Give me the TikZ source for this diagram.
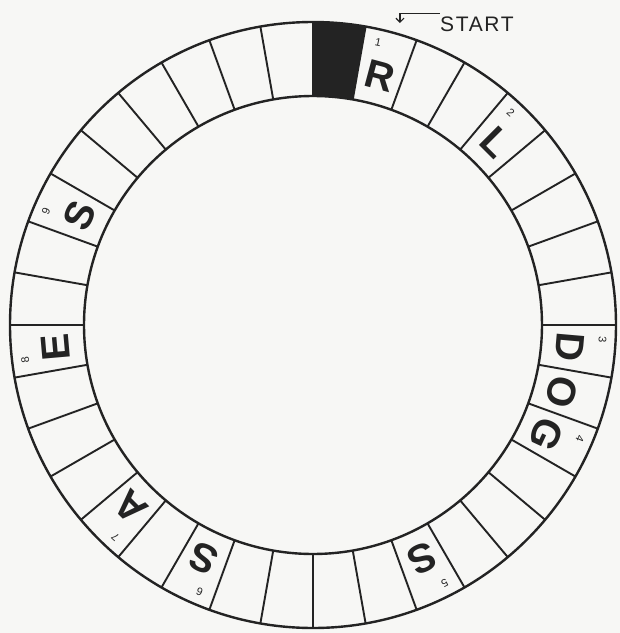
\documentclass[tikz,border=0pt]{standalone}
\usepackage{fontspec}
\setmainfont{Liberation Sans}
\usepackage{xcolor}
\definecolor{inkblack}{RGB}{35,35,35}
\definecolor{paper}{RGB}{247,247,245}
\usetikzlibrary{arrows.meta, positioning}

\tikzset{
  ringline/.style={draw=inkblack, line width=2.4pt},
  spoke/.style={draw=inkblack, line width=1.9pt},
  cellletter/.style={font=\fontsize{40}{40}\selectfont\bfseries, text=inkblack, inner sep=0pt},
  cellnum/.style={font=\fontsize{11}{11}\selectfont, text=inkblack, inner sep=0pt},
  startlabel/.style={font=\fontsize{21}{21}\selectfont\addfontfeature{LetterSpace=8}, text=inkblack, inner sep=0pt}
}

\begin{document}
\begin{tikzpicture}[x=1pt,y=1pt]
  % paper
  \path[use as bounding box, fill=paper] (-313,-308) rectangle (307,325);

  % black cell at the top
  \fill[inkblack] (90:229) arc[start angle=90, end angle=80, radius=229pt]
       -- (80:303) arc[start angle=80, end angle=90, radius=303pt] -- cycle;

  % ring
  \draw[ringline] (0,0) circle[radius=303pt];
  \draw[ringline] (0,0) circle[radius=229pt];

  % 36 cells
  \foreach \k in {0,...,35}
    \draw[spoke] ({90-10*\k}:229) -- ({90-10*\k}:303);

  % letters in the cells
  \foreach \i/\ltr in {1/R, 4/L, 9/D, 10/O, 11/G, 15/S, 20/S, 22/A, 26/E, 29/S}
    \node[cellletter, rotate={-5-10*\i}] (ltr\i) at ({85-10*\i}:258) {\ltr};

  % step numbers
  \foreach \i/\num in {1/1, 4/2, 9/3, 11/4, 15/5, 20/6, 22/7, 26/8, 29/9}
    \node[cellnum, rotate={-2-10*\i}] (num\i) at ({87-10*\i}:290) {\num};

  % start mark
  \node[startlabel] (start) at (164,301) {START};
  \coordinate (startarrow) at (87,302);
  \draw[inkblack, line width=1.2pt, -{Straight Barb[length=4pt]}]
       ([yshift=3pt]start.north west) -| (startarrow);
\end{tikzpicture}
\end{document}
